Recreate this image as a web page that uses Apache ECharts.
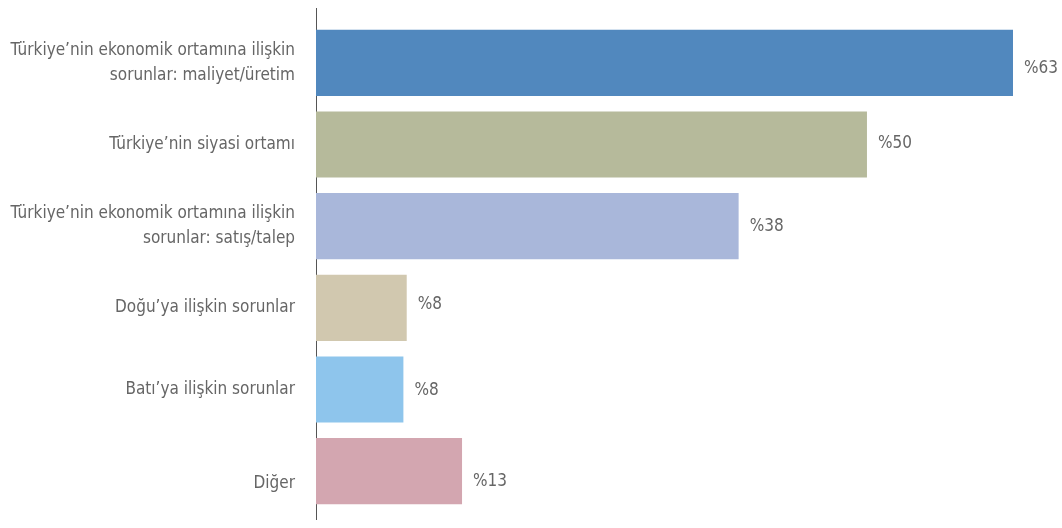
<!DOCTYPE html>
<html><head><meta charset="utf-8">
<script src="https://cdn.jsdelivr.net/npm/echarts@6/dist/echarts.min.js"></script>
<style>html,body{margin:0;padding:0;background:#fff}#c{width:1062px;height:528px}</style>
</head><body><div id="c"></div>
<script>
const categories = [
  "Türkiye’nin ekonomik ortamına ilişkin\nsorunlar: maliyet/üretim",
  "Türkiye’nin siyasi ortamı",
  "Türkiye’nin ekonomik ortamına ilişkin\nsorunlar: satış/talep",
  "Doğu’ya ilişkin sorunlar",
  "Batı’ya ilişkin sorunlar",
  "Diğer"
];
const values = [63, 49.8, 38.2, 8.2, 7.9, 13.2];
const colors = ["#5188BE", "#B6BA9B", "#A9B7DA", "#D1C8AF", "#8EC5EC", "#D3A6B0"];
const labelShift = [6, -1, 0, -3, 1, 10];

const font = "'DejaVu Sans Condensed', sans-serif";
const chart = echarts.init(document.getElementById('c'));
chart.setOption({
  animation: false,
  grid: { left: 316, top: 22, width: 697, height: 490, containLabel: false, outerBoundsMode: 'none' },
  xAxis: { type: 'value', min: 0, max: 63, show: false },
  yAxis: {
    type: 'category', inverse: true, data: categories,
    axisLine: { show: false },
    axisTick: { show: false },
    axisLabel: {
      margin: 21, color: '#666', fontSize: 17, fontFamily: font, lineHeight: 25, align: 'right',
      formatter: (v, i) => i === categories.length - 1 ? '\n' + v : v
    }
  },
  graphic: [{ type: 'line', shape: { x1: 316.5, y1: 8, x2: 316.5, y2: 520 }, style: { stroke: '#555', lineWidth: 1 } }],
  series: [{
    type: 'bar',
    data: values.map((v, i) => ({ value: v, itemStyle: { color: colors[i] }, label: { offset: [0, labelShift[i]] } })),
    barCategoryGap: '19%',
    label: {
      show: true, position: 'right', distance: 11,
      color: '#666', fontSize: 17, fontFamily: font,
      formatter: p => '%' + Math.round(p.value)
    }
  }]
});
</script></body></html>
